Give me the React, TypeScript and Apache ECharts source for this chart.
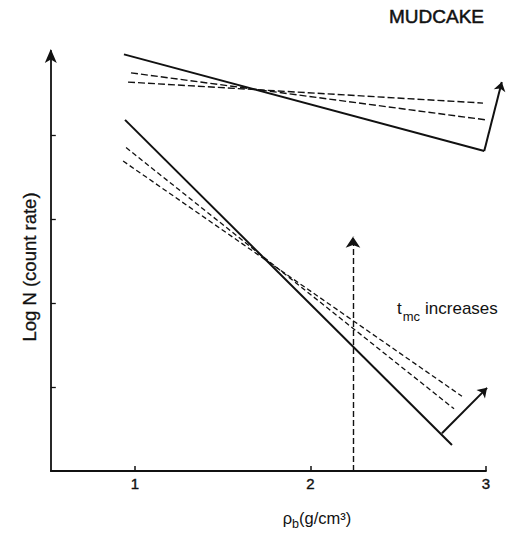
import React, { useEffect, useRef } from "react";
import * as echarts from "echarts";

// Density axis (g/cm3) and log count rate values
const xTicks = [1, 2, 3];
const yTicks = [1, 2, 3, 4];

const upperSolid = [[0.937, 4.96], [2.99, 3.81]];
const upperDashedA = [[0.977, 4.74], [3.0, 4.18]];
const upperDashedB = [[0.96, 4.63], [2.983, 4.38]];
const lowerSolid = [[0.943, 4.18], [2.806, 0.31]];
const lowerDashedA = [[0.949, 3.85], [2.818, 0.74]];
const lowerDashedB = [[0.932, 3.69], [2.863, 0.89]];
const upperArrow = [[2.99, 3.81], [3.09, 4.63]];
const lowerArrow = [[2.749, 0.45], [3.006, 0.99]];
const densityMarker = [[2.242, 0], [2.242, 2.79]];

const FONT = "'Liberation Sans', Arial, Helvetica, sans-serif";
const INK = "#111";
const HEAVY = { textBorderColor: INK, textBorderWidth: 0.4 };

export default function App() {
  const ref = useRef<HTMLDivElement>(null);
  useEffect(() => {
    if (!ref.current) return;
    const chart = echarts.init(ref.current, undefined, { renderer: "svg" });
    const solid = { color: INK, width: 2, type: "solid" as const };
    const dashedUpper = { color: INK, width: 1.4, type: [7, 3] as any };
    const dashedLower = { color: INK, width: 1.3, type: [5, 3] as any };
    const lineSeries = (data: number[][], lineStyle: any) => ({
      type: "line",
      data,
      showSymbol: false,
      symbol: "none",
      clip: false,
      silent: true,
      lineStyle,
    });
    const arrowSeries = (coords: number[][], lineStyle: any, size: number) => ({
      type: "lines",
      coordinateSystem: "cartesian2d",
      clip: false,
      silent: true,
      symbol: ["none", "arrow"],
      symbolSize: size,
      lineStyle: { ...lineStyle, curveness: 0, opacity: 1 },
      itemStyle: { color: INK },
      data: [{ coords }],
    });
    chart.setOption({
      animation: false,
      backgroundColor: "#fff",
      textStyle: { fontFamily: FONT },
      grid: { left: 50.8, right: 20, top: 51, bottom: 64, containLabel: false },
      xAxis: {
        type: "value",
        min: 0.52,
        max: 3,
        axisLine: { show: true, onZero: false, lineStyle: { color: INK, width: 1.8 } },
        axisTick: { show: true, inside: true, length: 5, customValues: xTicks, lineStyle: { color: INK, width: 1.5 } },
        axisLabel: {
          show: true,
          customValues: xTicks,
          margin: 5,
          fontSize: 15,
          color: INK,
          fontFamily: FONT,
          ...HEAVY,
        },
        splitLine: { show: false },
      },
      yAxis: {
        type: "value",
        min: 0,
        max: 5,
        interval: 1,
        axisLine: {
          show: true,
          onZero: false,
          symbol: ["none", "arrow"],
          symbolSize: [9, 14],
          symbolOffset: [0, 2],
          lineStyle: { color: INK, width: 1.8 },
        },
        axisTick: { show: true, inside: true, length: 5, customValues: yTicks, lineStyle: { color: INK, width: 1.3 } },
        axisLabel: { show: false },
        splitLine: { show: false },
      },
      series: [
        lineSeries(upperSolid, solid),
        lineSeries(upperDashedA, dashedUpper),
        lineSeries(upperDashedB, dashedUpper),
        lineSeries(lowerSolid, solid),
        lineSeries(lowerDashedA, dashedLower),
        lineSeries(lowerDashedB, dashedLower),
        arrowSeries(upperArrow, { color: INK, width: 2, type: "solid" }, 9),
        arrowSeries(lowerArrow, { color: INK, width: 2, type: "solid" }, 9),
        arrowSeries(densityMarker, { color: INK, width: 1.4, type: [6, 3] }, 11),
      ],
      graphic: [
        {
          type: "text",
          x: 389,
          y: 7,
          style: { text: "MUDCAKE", fontSize: 19, fontFamily: FONT, fill: INK, stroke: INK, lineWidth: 0.5 },
        },
        {
          type: "text",
          x: 29,
          y: 267,
          rotation: Math.PI / 2,
          style: {
            text: "Log N (count rate)",
            fontSize: 18.5,
            fontFamily: FONT,
            fill: INK,
            stroke: INK,
            lineWidth: 0.3,
            align: "center",
            verticalAlign: "middle",
          },
        },
        {
          type: "text",
          x: 317,
          y: 509,
          style: {
            text: "{r|ρ}{s|b}{r|(g/cm³)}",
            fontFamily: FONT,
            fill: INK,
            align: "center",
            verticalAlign: "top",
            rich: {
              r: { fontSize: 16.5, fontFamily: FONT, fill: INK, verticalAlign: "top" },
              s: { fontSize: 12.5, fontFamily: FONT, fill: INK, verticalAlign: "top", padding: [8, 0, 0, 0] },
            },
          },
        },
        {
          type: "text",
          x: 397,
          y: 300,
          style: {
            text: "{r|t}{s|mc}{g| }{r|increases}",
            fontFamily: FONT,
            fill: INK,
            verticalAlign: "top",
            rich: {
              r: { fontSize: 17, fontFamily: FONT, fill: INK, verticalAlign: "top" },
              s: { fontSize: 13, fontFamily: FONT, fill: INK, verticalAlign: "top", padding: [10, 0, 0, 1] },
              g: { fontSize: 17, fontFamily: FONT, fill: INK, verticalAlign: "top", width: 5 },
            },
          },
        },
      ],
    });
    return () => chart.dispose();
  }, []);
  return (
    <div
      ref={ref}
      style={{ position: "fixed", left: 0, top: 0, width: 506, height: 535, background: "#fff" }}
    />
  );
}
